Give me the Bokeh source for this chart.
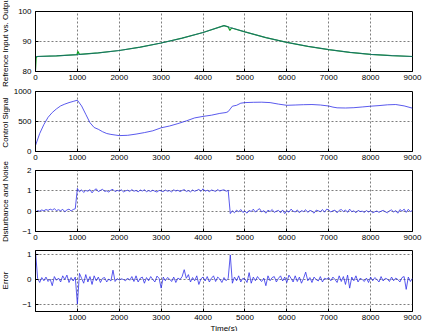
import math
import numpy as np
from bokeh.plotting import figure
from bokeh.layouts import column, row
from bokeh.models import FixedTicker, Range1d, Label
from bokeh.embed import file_html
from bokeh.resources import INLINE

# ---------------- data ----------------
# Panel 1: reference input and output
ref_t = [0, 500, 1000, 1500, 2000, 2500, 3000, 3500, 4000, 4500,
         5000, 5500, 6000, 6500, 7000, 7500, 8000, 8500, 9000]
ref_y = [85.0, 85.2, 85.6, 86.2, 87.0, 88.1, 89.5, 91.1, 93.0, 95.3,
         93.2, 91.3, 89.7, 88.4, 87.3, 86.4, 85.7, 85.3, 85.0]
out_t = [0, 15, 40, 500, 990, 1010, 1050, 1500, 2000, 2500, 3000, 3500, 4000,
         4500, 4600, 4640, 4680, 5000, 5500, 6000, 6500, 7000, 7500, 8000, 8500, 9000]
out_y = [80.5, 84.6, 85.0, 85.2, 85.6, 86.7, 85.7, 86.2, 87.0, 88.1, 89.5, 91.1, 93.0,
         95.3, 94.9, 93.7, 94.5, 93.2, 91.3, 89.7, 88.4, 87.3, 86.4, 85.7, 85.3, 85.0]

# Panel 2: control signal
ctrl_t = [0, 100, 200, 300, 400, 500, 600, 700, 800, 900, 1000, 1100, 1200, 1300,
          1400, 1500, 1600, 1700, 1800, 1900, 2000, 2200, 2400, 2600, 2800, 3000,
          3200, 3400, 3600, 3800, 4000, 4200, 4400, 4550, 4600, 4650, 4700, 4800,
          4900, 5000, 5200, 5400, 5600, 5800, 6000, 6200, 6400, 6600, 6800, 7000,
          7100, 7200, 7400, 7600, 7800, 8000, 8200, 8400, 8600, 8800, 9000]
ctrl_u = [100, 300, 450, 570, 650, 710, 760, 790, 815, 835, 855, 760, 620, 480,
          400, 370, 330, 300, 285, 275, 265, 270, 290, 315, 345, 395,
          425, 465, 510, 560, 585, 605, 635, 650, 665, 710, 755, 770,
          805, 815, 820, 822, 815, 790, 770, 775, 780, 783, 775, 758,
          740, 728, 725, 730, 742, 755, 765, 778, 783, 760, 722]

# Panel 3: disturbance and noise (sampled every 50 s from 0 to 9000)
dist = [-0.05, 0.03, 0.0, 0.06, 0.02, 0.08, 0.04, 0.1, 0.05, 0.12,
        0.03, 0.07, 0.02, 0.09, -0.03, 0.06, 0.1, 0.01, 0.08, 0.12,
        1.12, 0.95, 1.05, 0.92, 1.02, 0.98, 1.06, 0.9, 1.03, 1.1,
        0.96, 1.02, 1.08, 0.97, 1.0, 0.94, 1.04, 1.07, 0.96, 1.02,
        0.99, 1.05, 0.95, 1.0, 1.03, 0.97, 1.06, 0.98, 1.02, 0.95,
        1.04, 0.99, 1.05, 0.96, 1.01, 0.97, 1.03, 0.98, 0.94, 1.02,
        1.0, 0.96, 1.04, 0.98, 1.01, 0.95, 1.05, 0.99, 1.03, 0.96,
        1.02, 1.06, 0.97, 1.01, 0.95, 1.04, 0.98, 1.02, 1.07, 0.97,
        1.1, 0.98, 1.03, 0.96, 1.04, 1.01, 0.97, 1.06, 0.99, 1.03,
        1.05, 0.98, 1.02, -0.12, 0.02, -0.08, 0.05, -0.03, 0.08, -0.06,
        0.0, -0.1, 0.04, -0.02, 0.1, -0.05, 0.06, 0.12, -0.04, 0.03,
        -0.1, 0.05, -0.02, 0.08, -0.06, 0.0, 0.04, -0.08, 0.06, -0.12,
        0.02, -0.05, 0.1, 0.0, -0.04, 0.06, -0.08, 0.03, -0.02, 0.07,
        -0.06, 0.04, 0.0, -0.1, 0.05, 0.02, -0.03, 0.08, -0.05, 0.1,
        0.06, -0.04, 0.02, 0.05, -0.08, 0.04, 0.08, -0.02, 0.06, -0.06,
        0.1, -0.03, 0.02, -0.08, 0.04, -0.02, 0.0, -0.06, 0.03, -0.04,
        0.02, -0.08, -0.03, 0.01, -0.06, 0.0, 0.04, -0.03, -0.08, 0.02,
        0.06, -0.04, 0.03, -0.1, 0.08, 0.0, 0.1, -0.06, 0.09, -0.02, 0.04]

# Panel 4: error (sampled every 50 s from 0 to 9000)
err = [1.15, 0.05, -0.12, 0.08, -0.05, 0.1, -0.08, 0.02, -0.25, 0.12,
       -0.03, 0.06, -0.1, 0.15, 0.0, 0.18, -0.12, 0.08, -0.06, 0.1,
       -1.0, 0.25, 0.05, -0.15, 0.2, -0.1, 0.12, -0.2, 0.15, -0.05,
       0.1, -0.12, 0.05, 0.08, -0.1, 0.02, -0.06, 0.38, -0.08, 0.04,
       -0.02, 0.03, 0.0, -0.05, 0.06, -0.03, 0.12, -0.08, 0.15, -0.1,
       0.05, 0.1, -0.15, 0.08, -0.05, 0.12, 0.0, -0.1, 0.14, 0.05,
       -0.35, 0.1, -0.05, 0.08, 0.02, -0.08, 0.1, -0.12, 0.06, 0.0,
       0.12, 0.4, 0.05, 0.2, -0.1, 0.08, -0.05, 0.15, -0.2, 0.03,
       0.1, -0.06, 0.12, -0.1, 0.05, 0.15, -0.08, 0.1, 0.02, -0.12,
       0.08, -0.05, 0.05, 1.0, -0.15, 0.1, -0.05, 0.15, -0.1, 0.05,
       0.02, -0.12, 0.28, -0.15, 0.1, -0.05, 0.12, 0.0, -0.08, 0.06,
       -0.25, 0.15, -0.05, 0.08, 0.12, -0.1, 0.05, 0.15, -0.06, 0.1,
       -0.12, 0.18, 0.05, -0.1, 0.15, -0.08, 0.1, -0.15, 0.05, 0.3,
       -0.05, 0.08, -0.12, 0.1, 0.0, -0.06, 0.12, -0.1, 0.05, 0.02,
       0.08, -0.05, 0.1, 0.0, -0.12, 0.15, -0.08, 0.12, -0.2, 0.18,
       -0.35, 0.1, -0.05, 0.15, -0.1, 0.05, 0.0, -0.08, 0.06, -0.12,
       0.1, -0.05, 0.08, 0.0, -0.1, 0.12, -0.06, 0.05, 0.02, -0.08,
       0.1, -0.05, 0.06, 0.0, -0.1, 0.08, 0.12, -0.4, 0.1, -0.08, 0.05]

x_ticks = [0, 1000, 2000, 3000, 4000, 5000, 6000, 7000, 8000, 9000]
x_ticks_err = [1000, 2000, 3000, 4000, 5000, 6000, 7000, 8000, 9000]
y_labels = ["Refrence Input vs. Output", "Control Signal", "Disturbance and Noise", "Error"]

FONT = "Liberation Sans"
BLUE = "#3030e8"
LABEL_W = 10


def make_fig(ylo, yhi, yticks, xticks, top, bottom, fh, xlabel=None):
    p = figure(frame_width=377, frame_height=fh, x_range=Range1d(0, 9000),
               y_range=Range1d(ylo, yhi), output_backend="svg", toolbar_location=None,
               min_border_left=35 - LABEL_W, min_border_right=15, min_border_top=top,
               min_border_bottom=bottom)
    p.background_fill_color = "white"
    p.border_fill_color = "white"
    p.outline_line_color = "black"
    p.outline_line_width = 1
    p.xaxis.ticker = FixedTicker(ticks=xticks)
    p.yaxis.ticker = FixedTicker(ticks=yticks)
    for ax in (p.xaxis[0], p.yaxis[0]):
        ax.major_tick_in = 3
        ax.major_tick_out = 0
        ax.minor_tick_in = 0
        ax.minor_tick_out = 0
        ax.major_label_text_font = FONT
        ax.major_label_text_font_size = "8px"
        ax.major_label_text_color = "black"
        ax.axis_line_color = "black"
        ax.major_tick_line_color = "black"
        ax.axis_label_text_font = FONT
        ax.axis_label_text_font_size = "8px"
        ax.axis_label_text_font_style = "normal"
        ax.axis_label_text_color = "black"
    p.xaxis.major_label_standoff = 3
    p.yaxis.major_label_standoff = 4
    if xlabel:
        p.xaxis.axis_label = xlabel
        p.xaxis.axis_label_standoff = 1
    p.grid.grid_line_color = "#333333"
    p.grid.grid_line_dash = "2 2"
    p.grid.grid_line_alpha = 0.8
    p.grid.grid_line_width = 0.8
    return p


p1 = make_fig(80, 100, [80, 90, 100], x_ticks, 11, 16, 60)
p1.line(out_t, out_y, line_color="#10a020", line_width=1.2)
p1.line(ref_t, ref_y, line_color="#1d5f86", line_width=0.9, line_alpha=0.8)

p2 = make_fig(0, 1000, [0, 500, 1000], x_ticks, 4, 14, 60)
p2.line(ctrl_t, ctrl_u, line_color=BLUE, line_width=0.8)

t_dist = np.linspace(0, 9000, len(dist))
p3 = make_fig(-1, 2, [-1, 0, 1, 2], x_ticks, 5, 14, 61)
p3.line(t_dist, dist, line_color=BLUE, line_width=0.8)

t_err = np.linspace(0, 9000, len(err))
p4 = make_fig(-1.3, 1.18, [-1, 0, 1], x_ticks_err, 5, 20, 61, xlabel="Time(s)")
p4.line(t_err, err, line_color=BLUE, line_width=0.8)

# strip holding the y-axis titles (pixel coordinates, y measured from top)
lab = figure(width=LABEL_W, height=331, x_range=Range1d(0, LABEL_W), y_range=Range1d(331, 0),
             output_backend="svg", toolbar_location=None, min_border=0)
lab.axis.visible = False
lab.grid.visible = False
lab.outline_line_color = None
lab.background_fill_color = "white"
lab.border_fill_color = "white"
label_y = [41, 122, 201, 280]
for txt, yc in zip(y_labels, label_y):
    lab.add_layout(Label(x=5, y=yc, text=txt, angle=math.pi / 2, text_align="center",
                         text_baseline="middle", text_font=FONT, text_font_size="8px",
                         text_color="black"))

layout = row(lab, column(p1, p2, p3, p4, spacing=0), spacing=0)
open("out.html", "w").write(file_html(layout, INLINE))
